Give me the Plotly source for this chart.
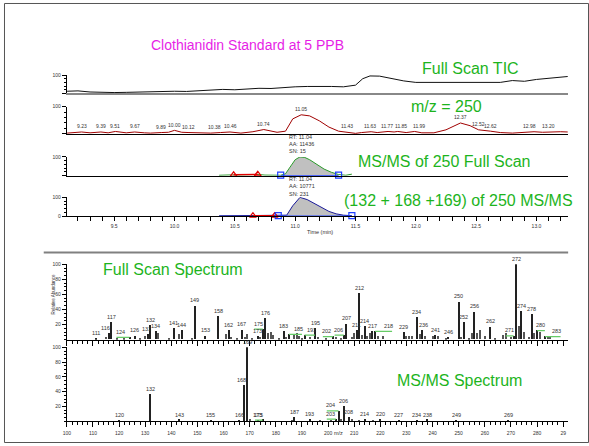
import numpy as np
import plotly.graph_objects as go

W, H = 589, 446

# ---------------- chromatogram data (time in min, relative %) ----------------
tic_t = [9.11, 9.2, 9.3, 9.4, 9.5, 9.6, 9.7, 9.8, 9.9, 10.0, 10.1, 10.2, 10.3, 10.4, 10.5,
         10.6, 10.7, 10.8, 10.9, 11.0, 11.1, 11.2, 11.3, 11.4, 11.5, 11.56, 11.62, 11.7,
         11.8, 11.9, 12.0, 12.1, 12.2, 12.3, 12.4, 12.5, 12.6, 12.7, 12.8, 12.9, 13.0,
         13.1, 13.2, 13.26]
tic_i = [12, 14, 8, 5, 5, 6, 8, 7, 10, 12, 11, 15, 20, 22, 20,
         25, 28, 27, 32, 36, 38, 40, 38, 36, 45, 80, 95, 94,
         80, 68, 60, 60, 62, 61, 60, 62, 58, 60, 70, 66, 76,
         82, 88, 92]

xic_t = [9.11, 9.23, 9.3, 9.39, 9.45, 9.51, 9.6, 9.67, 9.75, 9.8, 9.89, 9.95, 10.0, 10.06,
         10.12, 10.2, 10.3, 10.38, 10.46, 10.55, 10.65, 10.74, 10.8, 10.85, 10.92, 10.98,
         11.05, 11.12, 11.2, 11.28, 11.36, 11.43, 11.5, 11.55, 11.63, 11.68, 11.77, 11.82,
         11.85, 11.92, 11.99, 12.05, 12.15, 12.25, 12.37, 12.45, 12.52, 12.62, 12.7, 12.8,
         12.9, 12.98, 13.05, 13.1, 13.2, 13.26]
xic_i = [3, 7, 4, 7, 4, 9, 4, 7, 4, 3, 5, 6, 13, 6,
         5, 3, 3, 5, 7, 3, 8, 16, 10, 6, 10, 55,
         70, 66, 48, 25, 10, 7, 2, 5, 8, 5, 9, 7,
         9, 5, 9, 4, 4, 15, 40, 30, 15, 10, 5, 3,
         5, 8, 6, 7, 8, 7]
xic_labels = [9.23, 9.39, 9.51, 9.67, 9.89, 10.00, 10.12, 10.38, 10.46, 10.74, 11.05,
              11.43, 11.63, 11.77, 11.85, 11.99, 12.37, 12.52, 12.62, 12.98, 13.20]

ms1_t = [10.37, 10.42, 10.47, 10.52, 10.6, 10.7, 10.75, 10.8, 10.88, 10.92, 10.96, 11.0,
         11.04, 11.08, 11.12, 11.18, 11.24, 11.3, 11.36, 11.42, 11.47]
ms1_i = [2, 5, 4, 3, 5, 6, 3, 4, 2, 10, 45, 85, 100, 97, 85, 60, 35, 18, 6, 2, 8]
ms1_limits = [10.88, 11.36]
ms1_noise = [10.49, 10.69]

ms2_t = [10.37, 10.5, 10.6, 10.7, 10.8, 10.88, 10.93, 10.98, 11.04, 11.1, 11.16, 11.22,
         11.28, 11.34, 11.4, 11.47]
ms2_i = [1, 1, 1, 1, 1, 1, 5, 55, 100, 88, 68, 45, 25, 12, 5, 2]
ms2_limits = [10.86, 11.47]
ms2_noise = [10.65, 10.83]

# ---------------- spectra data (m/z, relative abundance %) ----------------
fs_mz = [111, 116, 117, 124, 126, 131, 132, 134, 141, 144, 149, 153, 158, 162, 167,
         173, 175, 176, 183, 185, 191, 195, 202, 206, 207, 211, 212, 214, 217, 218, 229,
         234, 236, 241, 246, 250, 252, 256, 262, 271, 272, 274, 278, 280, 283]
fs_ab = [2, 8, 23, 3, 5, 7, 19, 11, 15, 12, 45, 5, 31, 12, 13,
         4, 14, 28, 11, 7, 6, 15, 4, 6, 21, 12, 61, 18, 11, 11, 10,
         30, 12, 6, 3, 50, 23, 37, 17, 5, 100, 38, 34, 12, 4]
fs_minor_mz = [115, 119, 122, 128, 130, 135, 139, 143, 148, 161, 163, 165, 168, 169, 171, 174,
               177, 178, 179, 181, 184, 187, 188, 189, 190, 193, 196, 199, 203, 205, 209,
               210, 213, 215, 216, 219, 221, 230, 231, 232, 235, 237, 240, 242, 245, 251,
               254, 255, 257, 258, 260, 264, 267, 268, 270, 273, 275, 277, 279, 281, 284, 285]
fs_minor_ab = [3, 2, 2, 2, 4, 9, 2, 7, 2, 7, 3, 2, 3, 7, 2, 3,
               8, 10, 6, 2, 3, 7, 8, 5, 2, 3, 3, 2, 3, 2, 3,
               8, 6, 5, 9, 4, 5, 5, 5, 5, 7, 5, 5, 4, 2, 3,
               2, 9, 8, 12, 4, 2, 6, 8, 3, 18, 10, 3, 8, 10, 3, 3]

ms_mz = [120, 132, 143, 155, 166, 168, 169, 173, 175, 187, 193, 203, 204, 206, 208, 214,
         220, 227, 234, 238, 249, 269]
ms_ab = [1, 36, 1.5, 1, 1, 48, 100, 1, 1.5, 5, 2, 3, 14, 20, 5, 2,
         2, 1, 1, 1.5, 1, 1]
ms_minor_mz = [170, 186, 197, 201, 205, 209, 212, 217]
ms_minor_ab = [3, 1, 1, 1, 3, 2, 1, 1]

# label displacements (style only)
fs_label_dx = {116: -1.2, 124: -3.5, 131: -0.6, 175: -1.8, 185: 3.5, 191: 2.5, 202: -2.5,
               206: -2.0, 218: 5.0, 271: -1.5, 283: 4.5, 280: 1.5, 236: 0.5}
ms_label_dx = {175: -1.5, 203: -2.0, 204: -3.0, 168: -1.2}
xic_label_dx = {10.38: -0.05, 11.63: -0.01, 11.77: -0.01, 11.85: 0.03, 11.99: 0.04,
                12.98: -0.04, 13.20: -0.1}

FONT = "Liberation Sans, Arial, sans-serif"
GREEN = "#1db41d"
TXT = "#333333"


def px(x):
    return x / W


def py(y):
    return 1 - y / H


fig = go.Figure()

xd_chrom = [px(63.3), px(567.7)]
xd_spec = [px(63.3), px(568)]
ydom = {
    1: [py(91.7), py(73)],
    2: [py(132.7), py(105)],
    3: [py(175), py(156)],
    4: [py(216), py(197)],
    5: [py(341.3), py(264.8)],
    6: [py(424), py(349)],
}
t_range = [9.108, 13.26]
mz_range = [100, 291.9]

fig.add_trace(go.Scatter(x=tic_t, y=tic_i, mode="lines", line=dict(color="#111111", width=1),
                         xaxis="x", yaxis="y", cliponaxis=False, showlegend=False))
fig.add_trace(go.Scatter(x=xic_t, y=xic_i, mode="lines", line=dict(color="#a00000", width=1),
                         xaxis="x2", yaxis="y2", cliponaxis=False, showlegend=False))


def add_peak(tt, ii, limits, noise, color, xa, ya, light_base=None):
    tt = np.array(tt, float)
    ii = np.array(ii, float)
    sel = (tt > limits[0]) & (tt < limits[1])
    ft = np.concatenate([[limits[0]], tt[sel], [limits[1]]])
    fi = np.concatenate([[np.interp(limits[0], tt, ii)], ii[sel], [np.interp(limits[1], tt, ii)]])
    fig.add_trace(go.Scatter(x=ft, y=fi, mode="lines", fill="tozeroy", fillcolor="#c0c0c0",
                             line=dict(width=0), xaxis=xa, yaxis=ya, showlegend=False,
                             cliponaxis=False))
    if light_base is not None:
        fig.add_trace(go.Scatter(x=[light_base, limits[0]], y=[1, 1], mode="lines",
                                 line=dict(color="#8fa0f0", width=2), xaxis=xa, yaxis=ya,
                                 showlegend=False))
    fig.add_trace(go.Scatter(x=tt, y=ii, mode="lines", line=dict(color=color, width=1),
                             xaxis=xa, yaxis=ya, cliponaxis=False, showlegend=False))
    fig.add_trace(go.Scatter(x=limits, y=[0.5, 0.5], mode="lines",
                             line=dict(color="#2040ff", width=1.2), xaxis=xa, yaxis=ya,
                             showlegend=False))
    ny = [np.interp(n, tt, ii) + 1 for n in noise]
    fig.add_trace(go.Scatter(x=noise, y=ny, mode="lines+markers",
                             line=dict(color="#e00000", width=1.5),
                             marker=dict(symbol="triangle-up-open", size=6, color="#e00000",
                                         line=dict(width=1.2)),
                             xaxis=xa, yaxis=ya, cliponaxis=False, showlegend=False))
    fig.add_trace(go.Scatter(x=limits, y=[3, 3], mode="markers",
                             marker=dict(symbol="square-open", size=6, color="#2040ff",
                                         line=dict(width=1.2)),
                             xaxis=xa, yaxis=ya, cliponaxis=False, showlegend=False))


add_peak(ms1_t, ms1_i, ms1_limits, ms1_noise, "#2a9a2a", "x3", "y3")
add_peak(ms2_t, ms2_i, ms2_limits, ms2_noise, "#1a1a99", "x4", "y4", light_base=ms2_t[0])

fig.add_trace(go.Bar(x=fs_minor_mz, y=fs_minor_ab, width=0.45, marker=dict(color="#555555", line=dict(width=0)),
                     xaxis="x5", yaxis="y5", showlegend=False))
fig.add_trace(go.Bar(x=fs_mz, y=fs_ab, width=0.5, marker=dict(color="#222222", line=dict(width=0)),
                     xaxis="x5", yaxis="y5", showlegend=False))
fig.add_trace(go.Bar(x=ms_minor_mz, y=ms_minor_ab, width=0.45, marker=dict(color="#555555", line=dict(width=0)),
                     xaxis="x6", yaxis="y6", showlegend=False))
fig.add_trace(go.Bar(x=ms_mz, y=ms_ab, width=0.5, marker=dict(color="#222222", line=dict(width=0)),
                     xaxis="x6", yaxis="y6", showlegend=False))

annotations = []
LBL = 5.5


def spec_labels(mz, ab, dxmap, xa, ya):
    for m, a in zip(mz, ab):
        dx = dxmap.get(m, 0)
        annotations.append(dict(x=m + dx, y=a, xref=xa, yref=ya, text=str(m), showarrow=False,
                                yanchor="bottom", yshift=0.5, font=dict(size=LBL, color=TXT, family=FONT)))
        if dx != 0 and abs(dx) > 1.3:
            fig.add_trace(go.Scatter(x=[m + dx - 1.5, m + dx + 1.5, m], y=[a, a, a], mode="lines",
                                     line=dict(color="#66cc66", width=1.2), xaxis=xa, yaxis=ya,
                                     cliponaxis=False, showlegend=False, hoverinfo="skip"))


spec_labels(fs_mz, fs_ab, fs_label_dx, "x5", "y5")
spec_labels(ms_mz, ms_ab, ms_label_dx, "x6", "y6")

for t in xic_labels:
    yv = float(np.interp(t, xic_t, xic_i))
    annotations.append(dict(x=t + xic_label_dx.get(t, 0), y=yv, xref="x2", yref="y2", text=f"{t:.2f}",
                            showarrow=False, yanchor="bottom", yshift=0.5,
                            font=dict(size=5, color=TXT, family=FONT)))

for lines_, y0 in ((["RT: 11.04", "AA: 11436", "SN: 15"], 135.5),
                   (["RT: 11.04", "AA: 10771", "SN: 231"], 178.5)):
    for k, s in enumerate(lines_):
        annotations.append(dict(x=px(285), y=py(y0 + k * 7.3), xref="paper", yref="paper", text=s,
                                showarrow=False, xanchor="left", yanchor="middle",
                                font=dict(size=5.5, color=TXT, family=FONT)))

big = [
    ("Clothianidin Standard at 5 PPB", 245, 43, "#e61ee6", 14),
    ("Full Scan TIC", 470, 66, GREEN, 16),
    ("m/z = 250", 446, 104.5, GREEN, 16),
    ("MS/MS of 250 Full Scan", 444, 161, GREEN, 16),
    ("(132 + 168 +169) of 250 MS/MS", 458, 200, GREEN, 16),
    ("Full Scan Spectrum", 170, 270, GREEN, 16),
    ("MS/MS Spectrum", 459, 383, GREEN, 16),
]
for s, x, y, c, fs in big:
    annotations.append(dict(x=px(x), y=py(y), xref="paper", yref="paper", text=s, showarrow=False,
                            xanchor="center", yanchor="middle", font=dict(size=fs, color=c, family=FONT)))

annotations.append(dict(x=px(318), y=py(232), xref="paper", yref="paper", text="Time (min)",
                        showarrow=False, font=dict(size=5.5, color=TXT, family=FONT)))
annotations.append(dict(x=px(337), y=py(440.5), xref="paper", yref="paper", text="m/z",
                        showarrow=False, font=dict(size=5.5, color=TXT, family=FONT)))
annotations.append(dict(x=px(45), y=py(318), xref="paper", yref="paper", text="Relative Abundance",
                        textangle=-90, showarrow=False, font=dict(size=4.5, color=TXT, family=FONT)))

tickfont = dict(size=5, color=TXT, family=FONT)


def chrom_x(anchor, show_ticks, linecolor="black", lw=1):
    d = dict(domain=xd_chrom, range=t_range, anchor=anchor, showline=True, linecolor=linecolor,
             linewidth=lw, showgrid=False, zeroline=False, tickfont=tickfont)
    if show_ticks:
        d.update(ticks="outside", ticklen=4, tickcolor="black", dtick=0.5, tick0=9.5,
                 tickformat=".1f", showticklabels=True, ticklabelstandoff=1,
                 minor=dict(dtick=0.1, tick0=9.1, ticks="outside", ticklen=4, tickcolor="black"))
    else:
        d.update(ticks="", showticklabels=False)
    return d


def chrom_y(anchor, dom, texts):
    return dict(domain=dom, range=[0, 100], anchor=anchor, showline=True, linecolor="black",
                linewidth=1, showgrid=False, zeroline=False, tickvals=[0, 100], ticktext=texts,
                ticks="outside", ticklen=4, tickcolor="black", tickfont=tickfont,
                minor=dict(dtick=20, ticks="outside", ticklen=2, tickcolor="black"))


def spec_y(anchor, dom):
    return dict(domain=dom, range=[0, 100], anchor=anchor, showline=True, linecolor="black",
                linewidth=1, showgrid=False, zeroline=False, tickvals=[20, 40, 60, 80, 100],
                ticks="outside", ticklen=4, tickcolor="black", tickfont=tickfont,
                minor=dict(dtick=5, ticks="outside", ticklen=2, tickcolor="black"))


def spec_x(anchor, labels):
    tv = list(range(100, 300, 10))
    tt = [str(v) for v in tv]
    tt[-1] = "29"
    return dict(domain=xd_spec, range=mz_range, anchor=anchor, showline=True, linecolor="black",
                linewidth=1, showgrid=False, zeroline=False, tickvals=tv, ticktext=tt,
                ticks="outside", ticklen=5, tickcolor="black", tickfont=tickfont,
                showticklabels=labels, ticklabelstandoff=2,
                minor=dict(dtick=2, tick0=100, ticks="outside", ticklen=3, tickcolor="black"))


fig.update_layout(
    width=W, height=H, margin=dict(l=0, r=0, t=0, b=0),
    paper_bgcolor="white", plot_bgcolor="white", bargap=0, barmode="overlay",
    font=dict(family=FONT, size=6, color=TXT),
    xaxis=chrom_x("y", False, "#888888", 2),
    xaxis2=chrom_x("y2", False),
    xaxis3=chrom_x("y3", False),
    xaxis4=chrom_x("y4", True),
    xaxis5=spec_x("y5", False),
    xaxis6=spec_x("y6", True),
    yaxis=chrom_y("x", ydom[1], ["", "100"]),
    yaxis2=chrom_y("x2", ydom[2], ["", "100"]),
    yaxis3=chrom_y("x3", ydom[3], ["", "100"]),
    yaxis4=chrom_y("x4", ydom[4], ["0", "100"]),
    yaxis5=spec_y("x5", ydom[5]),
    yaxis6=spec_y("x6", ydom[6]),
    annotations=annotations,
    shapes=[
        dict(type="line", xref="paper", yref="paper", x0=px(40), x1=px(568), y0=py(253), y1=py(253),
             line=dict(color="#808080", width=2)),
        dict(type="rect", xref="paper", yref="paper", x0=px(0.5), x1=px(588.5), y0=py(445.5), y1=py(0.5),
             line=dict(color="#555555", width=1)),
    ],
)

fig.write_html("out.html", config={"displayModeBar": False},
               post_script="document.body.style.margin='0px';document.body.style.padding='0px';")
